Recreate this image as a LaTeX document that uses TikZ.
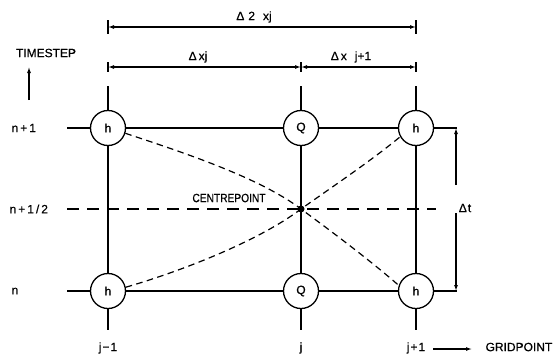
\documentclass[tikz,border=0pt]{standalone}
\usepackage{fontspec}
\usepackage{graphicx}
\setmainfont{Liberation Sans}
\newfontfamily\cadfont{Liberation Sans}[FakeBold=0.6]
\usetikzlibrary{arrows.meta}
\begin{document}
\begin{tikzpicture}[x=1pt,y=-1pt,
  line width=1.2pt,
  every node/.style={font=\cadfont\fontsize{12}{12}\selectfont, inner sep=0pt},
  gpt/.style={circle,draw,fill=white,minimum size=35pt,line width=1.3pt},
  curve/.style={dash pattern=on 6.5pt off 4.5pt, line width=1.2pt},
  midline/.style={dash pattern=on 12pt off 8pt, line width=1.2pt},
  dim/.style={{Latex[length=6pt,width=4pt]}-{Latex[length=6pt,width=4pt]}, line width=1.1pt},
  tickline/.style={line width=1.1pt},
  arr/.style={-{Latex[length=6pt,width=4pt]}, line width=1.1pt}
]
\useasboundingbox (0,0) rectangle (556,359);

% grid lines
\foreach \n/\x in {a/108,b/301,c/416}{
  \coordinate (\n top) at (\x,86);
  \coordinate (\n bot) at (\x,330);
  \draw (\n top) -- (\n bot);
}
\coordinate (r1l) at (67,128); \coordinate (r1r) at (457,128);
\coordinate (r0l) at (67,291); \coordinate (r0r) at (457,291);
\draw (r1l) -- (r1r);
\draw (r0l) -- (r0r);
\coordinate (ml) at (67,209); \coordinate (mr) at (436,209);
\draw[midline] (ml) -- (mr);

% grid points
\node[gpt] (h1) at (108,128) {h};
\node[gpt] (q1) at (301,128) {Q};
\node[gpt] (h2) at (416,128) {h};
\node[gpt] (h3) at (108,291) {h};
\node[gpt] (q0) at (301,291) {Q};
\node[gpt] (h4) at (416,291) {h};
\node[circle,fill,minimum size=7pt] (cp) at (301,209) {};

% dashed curves through the centrepoint
\draw[curve] (h1.-17) .. controls (185,153) and (260,178) .. (cp.center)
             .. controls (335,234) and (372,262) .. (h4.162);
\draw[curve] (h3.12) .. controls (185,270) and (260,240) .. (cp.center)
             .. controls (335,185) and (372,160) .. (h2.209);

\node (cpl) at (229,198) {\scalebox{0.85}[1]{CENTREPOINT}};

% top dimension lines
\coordinate (d2l) at (108,27); \coordinate (d2r) at (416,27);
\draw[dim] (d2l) -- (d2r);
\draw[tickline] (d2l) ++(0,-7) -- ++(0,14);
\draw[tickline] (d2r) ++(0,-7) -- ++(0,14);
\node (l2x) at (254,17) {Δ\kern4pt 2\kern8pt xj};

\coordinate (d1a) at (108,67); \coordinate (d1b) at (301,67); \coordinate (d1c) at (416,67);
\draw[dim] (d1a) -- (d1b);
\draw[dim] (d1b) -- (d1c);
\draw[tickline] (d1a) ++(0,-5) -- ++(0,10);
\draw[tickline] (d1b) ++(0,-5) -- ++(0,10);
\draw[tickline] (d1c) ++(0,-5) -- ++(0,10);
\node (lxj) at (198,57) {Δ\kern2pt xj};
\node (lxj1) at (351,57) {Δ\kern2pt x\kern8pt j+1};

% delta t
\coordinate (dt1) at (456,128); \coordinate (dt2) at (456,185);
\coordinate (dt3) at (456,213); \coordinate (dt4) at (456,291);
\draw[arr] (dt2) -- (dt1);
\draw[arr] (dt3) -- (dt4);
\node (ldt) at (465,208) {Δ\kern1pt t};

% timestep axis
\node (ts) at (46,53) {TIMESTEP};
\coordinate (tsa) at (29,100); \coordinate (tsb) at (29,67);
\draw[arr] (tsa) -- (tsb);
\node[anchor=west] (n1) at (11,128) {n\kern2pt+\kern2pt1};
\node[anchor=west] (nh) at (9,209) {n\kern2pt+\kern2pt1\kern2pt/\kern2pt2};
\node[anchor=west] (n0) at (11,291) {n};

% gridpoint axis
\node (j0) at (108,348) {j\kern1pt−\kern1pt1};
\node (j1) at (301,348) {j};
\node (j2) at (416,348) {j\kern1pt+\kern1pt1};
\coordinate (ga) at (433,349); \coordinate (gb) at (472,349);
\draw[arr] (ga) -- (gb);
\node[anchor=west] (gp) at (485,347) {GRIDPOINT};
\end{tikzpicture}
\end{document}
